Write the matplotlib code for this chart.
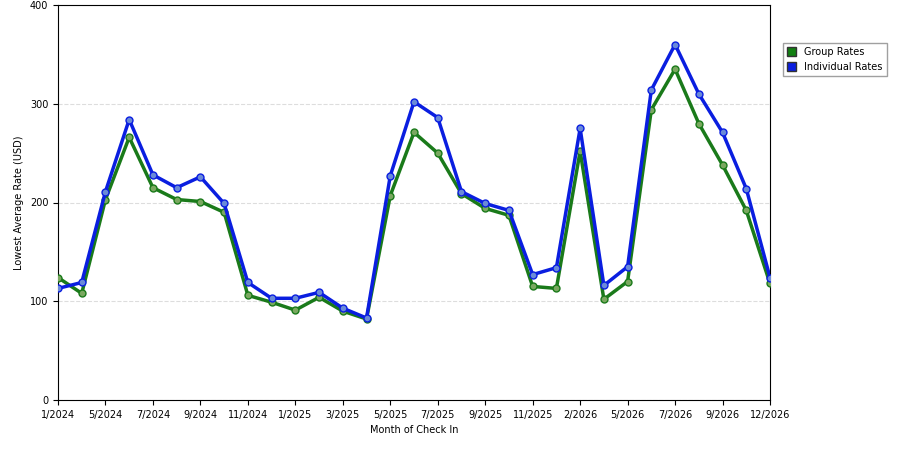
import matplotlib
matplotlib.use('Agg')
import matplotlib.pyplot as plt
from matplotlib.patches import Patch

# Data
months = ['1/2024', '3/2024', '5/2024', '6/2024', '7/2024', '8/2024', '9/2024', '10/2024',
          '11/2024', '12/2024', '1/2025', '2/2025', '3/2025', '4/2025', '5/2025', '6/2025',
          '7/2025', '8/2025', '9/2025', '10/2025', '11/2025', '12/2025', '2/2026', '3/2026',
          '5/2026', '6/2026', '7/2026', '8/2026', '9/2026', '10/2026', '12/2026']
group_rates = [124, 108, 203, 266, 215, 203, 201, 190, 106, 99, 91, 104, 90, 82, 207, 271,
               250, 209, 194, 187, 115, 113, 252, 102, 120, 294, 335, 280, 238, 192, 118]
indiv_rates = [113, 119, 211, 284, 228, 215, 226, 199, 119, 103, 103, 109, 93, 83, 227, 302,
               286, 211, 199, 192, 127, 134, 275, 116, 135, 314, 360, 310, 271, 214, 124]

fig = plt.figure(figsize=(9, 4.5), dpi=100)
ax = fig.add_axes([58/900, 50/450, 712/900, 395/450])

x = list(range(len(months)))
ax.plot(x, group_rates, color='#1a7a1a', lw=2.5, marker='o', ms=5,
        mfc='#7aa860', mec='#1a7a1a', zorder=3)
ax.plot(x, indiv_rates, color='#0a1ee0', lw=2.5, marker='o', ms=5,
        mfc='#6a8ad8', mec='#0a1ee0', zorder=4)

ax.set_xlim(0, len(months) - 1)
ax.set_ylim(0, 400)
ax.set_yticks([0, 100, 200, 300, 400])
ax.set_xticks(x[::2])
ax.set_xticklabels(months[::2])
ax.tick_params(labelsize=7)
ax.yaxis.grid(True, ls='--', color='#dddddd', lw=0.8)
ax.set_axisbelow(True)
ax.set_xlabel('Month of Check In', fontsize=7)
ax.set_ylabel('Lowest Average Rate (USD)', fontsize=7)

handles = [Patch(facecolor='#128012', edgecolor='#333333', label='Group Rates'),
           Patch(facecolor='#0a1ee0', edgecolor='#333333', label='Individual Rates')]
fig.legend(handles=handles, loc='upper left', bbox_to_anchor=(778/900, 1 - 38/450),
           fontsize=7, frameon=True, fancybox=False, edgecolor='#888888',
           handlelength=1.0, handleheight=1.0)

fig.savefig('out.png')
